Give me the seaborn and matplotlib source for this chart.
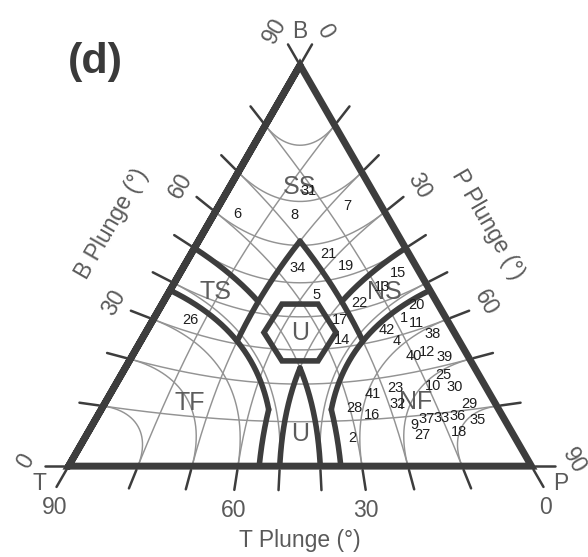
import numpy as np
import pandas as pd
import matplotlib
matplotlib.use("Agg")
import matplotlib.pyplot as plt
import seaborn as sns

# ---- data: focal mechanism axis plunges (degrees) ----
event_ids = [1, 2, 4, 5, 6, 7, 8, 9, 10, 11, 12, 13, 14, 15, 16, 17, 18, 19, 20, 21,
             22, 23, 25, 26, 27, 28, 29, 30, 31, 32, 33, 34, 35, 36, 37, 38, 39, 40, 41, 42]
t_plunge = [8, 31, 12, 25, 27, 6, 17, 16, 9, 6, 7, 9, 25, 4, 25, 23, 8, 14, 4, 16,
            16, 17, 6, 56, 15, 29, 4, 5, 11, 18, 10, 25, 4, 7, 13, 4, 4, 10, 23, 13]
b_plunge = [34, 6, 29, 46, 63, 66, 67, 8, 16, 32, 24, 44, 32, 45, 11, 38, 6, 53, 36, 57,
            42, 17, 18, 33, 6, 13, 11, 15, 72, 13, 9, 54, 8, 9, 9, 28, 22, 24, 16, 32]
p_plunge = [55, 58, 59, 33, 4, 23, 15, 72, 71, 58, 65, 45, 47, 44, 63, 43, 80, 34, 54, 28,
            44, 65, 71, 7, 74, 58, 78, 74, 14, 67, 77, 24, 81, 79, 74, 62, 68, 64, 61, 54]

# regime labels and where they sit (T, B, P plunges)
regime_names = ["SS", "TS", "NS", "U", "U", "TF", "NF"]
regime_t = [12, 46, 9, 35, 45, 70, 14]
regime_b = [73, 42, 42, 35, 7, 13, 13]
regime_p = [12, 9, 46, 35, 45, 15, 71]

# regime boundaries: (constant axis, value, other axis from, to)
boundaries = [
    ("T", 40, 0, 20), ("P", 40, 0, 20),
    ("T", 20, 20, 52), ("P", 20, 20, 52),
    ("T", 52, 0, 35), ("P", 52, 0, 35),
    ("P", 35, 52, 55), ("T", 35, 52, 55),
    ("T", 40, 40, 50), ("P", 40, 40, 50),
]
grid_values = [10, 20, 30, 40, 50, 60, 70, 80]
tick_values = [0, 10, 20, 30, 40, 50, 60, 70, 80, 90]
tick_labels = [0, 30, 60, 90]
hex_radius_deg = 10.8
hex_flatten = 0.91

SQ2, SQ3 = np.sqrt(2), np.sqrt(3)
PX = 1 / 189.0          # one pixel in projection units
DARK = "#3d3d3d"
GRID = "#939393"
TXT = "#5a5a5a"


def proj(t, b, p):
    """Frohlich gnomonic projection, T vertex on the left."""
    st, sb, sp = (np.sin(np.radians(np.asarray(a, float))) for a in (t, b, p))
    s = st + sb + sp
    return SQ3 * (sp - st) / (SQ2 * s), (2 * sb - st - sp) / (SQ2 * s)


def third(a, c):
    r = 1 - np.sin(np.radians(a)) ** 2 - np.sin(np.radians(c)) ** 2
    return np.degrees(np.arcsin(np.sqrt(np.clip(r, 0, 1))))


def iso_line(axis, val, lo, hi, n=400):
    s = np.linspace(lo, hi, n)
    c = np.full(n, float(val))
    if axis == "T":
        return proj(c, third(c, s), s)
    if axis == "P":
        return proj(s, third(c, s), c)
    return proj(s, c, third(c, s))


def frame(curves):
    parts = []
    for i, (x, y) in enumerate(curves):
        parts.append(pd.DataFrame({"x": x, "y": y, "curve": i}))
    return pd.concat(parts, ignore_index=True)


sns.set_theme(style="white")
plt.rcParams["font.family"] = ["Liberation Sans", "DejaVu Sans"]

fig = plt.figure(figsize=(5.88, 5.57), dpi=100)
ax = fig.add_axes([0, 0, 1, 1])
ax.set_xlim(-300 * PX, 288 * PX)
ax.set_ylim(-224.5 * PX, 332.5 * PX)
ax.axis("off")

# grid of constant plunge
grid_curves = []
for g in grid_values:
    for axis in ("T", "B", "P"):
        grid_curves.append(iso_line(axis, g, 0, 90 - g))
sns.lineplot(data=frame(grid_curves), x="x", y="y", units="curve", estimator=None,
             sort=False, color=GRID, linewidth=1.05, ax=ax, legend=False, zorder=1)

# regime boundaries
bnd = [iso_line(a, v, lo, hi) for a, v, lo, hi in boundaries]
sns.lineplot(data=frame(bnd), x="x", y="y", units="curve", estimator=None, sort=False,
             color=DARK, linewidth=4.0, ax=ax, legend=False, zorder=3)

# central hexagon
ang = np.radians(np.arange(0, 361, 60))
r = np.tan(np.radians(hex_radius_deg))
hexdf = pd.DataFrame({"x": r * np.cos(ang), "y": hex_flatten * r * np.sin(ang)})
sns.lineplot(data=hexdf, x="x", y="y", estimator=None, sort=False, color=DARK,
             linewidth=4.0, ax=ax, legend=False, zorder=3, solid_joinstyle="miter")

# triangle
V = {"T": np.array(proj(90, 0, 0)), "B": np.array(proj(0, 90, 0)), "P": np.array(proj(0, 0, 90))}
tri = pd.DataFrame([V["T"], V["B"], V["P"], V["T"], V["B"]], columns=["x", "y"])
sns.lineplot(data=tri, x="x", y="y", estimator=None, sort=False, color=DARK,
             linewidth=5.0, ax=ax, legend=False, zorder=4, solid_joinstyle="miter")

# axes: ticks, tick labels, titles
c30, s30 = np.cos(np.radians(30)), np.sin(np.radians(30))
axes_spec = {
    "T": dict(base=lambda v: proj(v, 0, 90 - v), opp="B", normal=np.array([0.0, -1.0]), rot=0,
              title="T Plunge (°)", toff=74, mix=0.25, gap=21),
    "B": dict(base=lambda v: proj(90 - v, v, 0), opp="P", normal=np.array([-c30, s30]), rot=60,
              title="B Plunge (°)", toff=83, mix=1.0, gap=19),
    "P": dict(base=lambda v: proj(0, 90 - v, v), opp="T", normal=np.array([c30, s30]), rot=-60,
              title="P Plunge (°)", toff=83, mix=1.0, gap=19),
}
tick_curves = []
for name, sp in axes_spec.items():
    for v in tick_values:
        b0 = np.array(sp["base"](v))
        d = b0 - V[sp["opp"]]
        d /= np.linalg.norm(d)
        p0, p1 = b0 + 4 * PX * d, b0 + 24 * PX * d
        tick_curves.append(([p0[0], p1[0]], [p0[1], p1[1]]))
        if v in tick_labels:
            w = sp["mix"] * d + sp["normal"]
            w /= np.linalg.norm(w)
            q = p1 + sp["gap"] * PX * w
            ax.text(q[0], q[1], str(v), ha="center", va="center", rotation=sp["rot"],
                    fontsize=16.5, color=TXT, rotation_mode="anchor")
    mid = np.array(sp["base"](45)) + sp["normal"] * sp["toff"] * PX
    ax.text(mid[0], mid[1], sp["title"], ha="center", va="center", rotation=sp["rot"],
            fontsize=16.5, color=TXT, rotation_mode="anchor")
sns.lineplot(data=frame(tick_curves), x="x", y="y", units="curve", estimator=None,
             sort=False, color=DARK, linewidth=1.8, ax=ax, legend=False, zorder=4)

# vertex letters
for name, pt in V.items():
    q = pt + pt / np.linalg.norm(pt) * 34 * PX
    ax.text(q[0], q[1], name, ha="center", va="center", fontsize=16.5, color=TXT)

# regime names
rx, ry = proj(regime_t, regime_b, regime_p)
for name, x, y in zip(regime_names, rx, ry):
    ax.text(x, y, name, ha="center", va="center", fontsize=18, color="#5c5c5c", zorder=5)

# events
ex, ey = proj(t_plunge, b_plunge, p_plunge)
for k, x, y in zip(event_ids, ex, ey):
    ax.text(x, y, str(k), ha="center", va="center", fontsize=10.5, color="#1e1e1e", zorder=6)

ax.text(-205 * PX, 270.5 * PX, "(d)", ha="center", va="center", fontsize=31,
        fontweight="bold", color="#3a3a3a")

fig.savefig("out.png", dpi=100)
